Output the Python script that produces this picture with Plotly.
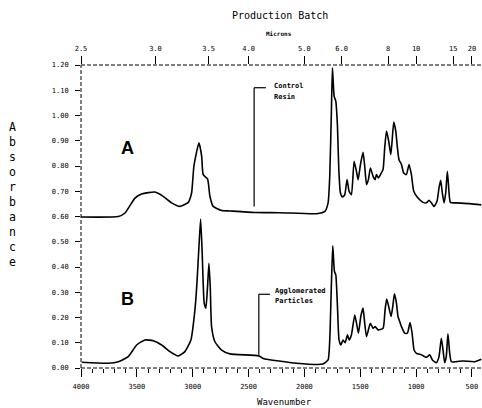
import plotly.graph_objects as go

# ---------------- data ----------------
wn_A = [4000, 3666, 3606, 3517, 3457, 3338, 3264, 3189, 3115, 3040, 3010, 2989, 2944, 2920,
        2906, 2867, 2846, 2817, 2741, 2667, 2444, 2220, 1892, 1817, 1788, 1773, 1758, 1749,
        1734, 1719, 1704, 1692, 1677, 1659, 1639, 1618, 1600, 1579, 1555, 1534, 1519, 1498,
        1475, 1460, 1444, 1427, 1409, 1385, 1367, 1355, 1337, 1319, 1296, 1281, 1265, 1245,
        1227, 1215, 1200, 1182, 1167, 1153, 1131, 1111, 1087, 1063, 1042, 1021, 983, 938,
        908, 884, 863, 840, 813, 795, 780, 765, 750, 735, 720, 706, 693, 639, 520, 416]
abs_A = [0.598, 0.600, 0.614, 0.673, 0.689, 0.697, 0.680, 0.654, 0.640, 0.656, 0.693, 0.800,
         0.892, 0.839, 0.766, 0.749, 0.680, 0.640, 0.624, 0.622, 0.616, 0.615, 0.611, 0.620,
         0.654, 0.759, 1.024, 1.189, 1.077, 1.057, 0.958, 0.786, 0.693, 0.677, 0.686, 0.746,
         0.700, 0.686, 0.819, 0.779, 0.746, 0.806, 0.854, 0.799, 0.726, 0.746, 0.792, 0.759,
         0.746, 0.766, 0.753, 0.766, 0.786, 0.872, 0.938, 0.898, 0.845, 0.898, 0.974, 0.938,
         0.872, 0.825, 0.806, 0.772, 0.766, 0.806, 0.766, 0.700, 0.673, 0.656, 0.654, 0.664,
         0.654, 0.640, 0.660, 0.713, 0.743, 0.693, 0.654, 0.693, 0.779, 0.700, 0.656, 0.654,
         0.651, 0.646]

wn_B = [3994, 3756, 3666, 3577, 3502, 3428, 3353, 3278, 3204, 3130, 3070, 3016, 2980, 2962,
        2944, 2929, 2915, 2897, 2882, 2867, 2855, 2843, 2831, 2801, 2741, 2667, 2408, 2369,
        2071, 1833, 1788, 1773, 1758, 1746, 1731, 1719, 1704, 1690, 1674, 1654, 1636, 1614,
        1600, 1579, 1549, 1528, 1516, 1495, 1475, 1460, 1444, 1427, 1409, 1385, 1367, 1341,
        1296, 1278, 1263, 1242, 1224, 1209, 1194, 1176, 1162, 1147, 1131, 1102, 1078, 1054,
        1036, 1018, 997, 952, 908, 878, 854, 818, 795, 774, 759, 744, 730, 715, 699, 684,
        580, 476, 416]
abs_B = [0.023, 0.019, 0.025, 0.045, 0.091, 0.111, 0.108, 0.091, 0.065, 0.048, 0.065, 0.111,
         0.230, 0.336, 0.481, 0.590, 0.455, 0.257, 0.237, 0.323, 0.415, 0.323, 0.164, 0.104,
         0.071, 0.056, 0.048, 0.038, 0.019, 0.016, 0.032, 0.111, 0.336, 0.484, 0.382, 0.369,
         0.243, 0.111, 0.091, 0.111, 0.100, 0.131, 0.111, 0.131, 0.210, 0.164, 0.138, 0.204,
         0.237, 0.177, 0.124, 0.151, 0.177, 0.157, 0.164, 0.151, 0.157, 0.230, 0.273, 0.237,
         0.204, 0.243, 0.294, 0.257, 0.204, 0.184, 0.164, 0.138, 0.138, 0.180, 0.138, 0.071,
         0.058, 0.052, 0.042, 0.052, 0.032, 0.021, 0.045, 0.118, 0.071, 0.021, 0.045, 0.135,
         0.058, 0.025, 0.028, 0.025, 0.035]

wn_ticks = [4000, 3500, 3000, 2500, 2000, 1500, 1000, 500]
micron_labels = ["2.5", "3.0", "3.5", "4.0", "5.0", "6.0", "8", "10", "15", "20"]
micron_vals = [2.5, 3.0, 3.5, 4.0, 5.0, 6.0, 8, 10, 15, 20]
abs_ticks = [0.0, 0.1, 0.2, 0.3, 0.4, 0.5, 0.6, 0.7, 0.8, 0.9, 1.0, 1.1, 1.2]

MONO = "DejaVu Sans Mono"

fig = go.Figure()
for wx, ay in ((wn_A, abs_A), (wn_B, abs_B)):
    fig.add_trace(go.Scatter(x=wx, y=ay, mode="lines",
                             line=dict(color="black", width=1.6, shape="spline", smoothing=0.5),
                             showlegend=False, hoverinfo="skip"))
# helper trace so the top (micron) axis is drawn
fig.add_trace(go.Scatter(x=wn_A[:1], y=abs_A[:1], xaxis="x2", mode="markers",
                         marker=dict(opacity=0), showlegend=False, hoverinfo="skip"))

XR = [4000, 410]
fig.update_layout(
    width=482, height=408,
    margin=dict(l=81, r=0, t=65, b=40, autoexpand=False),
    paper_bgcolor="white", plot_bgcolor="white",
    font=dict(family=MONO, color="black", size=7),
    xaxis=dict(range=XR, tickvals=wn_ticks, ticktext=[str(v) for v in wn_ticks],
               ticks="outside", ticklen=8, tickwidth=1, tickcolor="black",
               minor=dict(dtick=100, ticks="outside", ticklen=4, tickcolor="black"),
               showline=False, showgrid=False, zeroline=False, automargin=False,
               tickfont=dict(family=MONO, size=7), ticklabelstandoff=4),
    xaxis2=dict(range=XR, overlaying="x", side="top", anchor="y",
                tickvals=[10000 / m for m in micron_vals], ticktext=micron_labels,
                ticks="outside", ticklen=8, tickwidth=1, tickcolor="black",
                showline=False, showgrid=False, zeroline=False, automargin=False,
                tickfont=dict(family=MONO, size=7), ticklabelstandoff=2),
    yaxis=dict(range=[0, 1.2], tickvals=abs_ticks, tickformat=".2f",
               ticks="outside", ticklen=5, tickwidth=1, tickcolor="black",
               showline=False, showgrid=False, zeroline=False, automargin=False,
               tickfont=dict(family=MONO, size=7), ticklabelstandoff=5),
)

# dashed frame lines (left, top, bottom)
for (x0, y0, x1, y1) in ((0, 0, 0, 1), (0, 1, 1, 1), (0, 0, 1, 0)):
    fig.add_shape(type="line", xref="paper", yref="paper", x0=x0, y0=y0, x1=x1, y1=y1,
                  line=dict(color="black", width=1, dash="4px,2px"))

# bracket callouts
def bracket(xv, ytop, ybot, xend):
    fig.add_shape(type="line", xref="x", yref="y", x0=xv, x1=xv, y0=ybot, y1=ytop,
                  line=dict(color="black", width=1.2))
    fig.add_shape(type="line", xref="x", yref="y", x0=xv, x1=xend, y0=ytop, y1=ytop,
                  line=dict(color="black", width=1.2))

bracket(2450, 1.11, 0.64, 2345)
bracket(2408, 0.292, 0.052, 2309)

def note(text, x, y, size=7, bold=True):
    fig.add_annotation(text=f"<b>{text}</b>" if bold else text, x=x, y=y, xref="x", yref="y",
                       xanchor="left", yanchor="middle", showarrow=False,
                       font=dict(family=MONO, size=size, color="black"))

note("Control", 2294, 1.117)
note("Resin", 2294, 1.074)
note("Agglomerated", 2283, 0.305)
note("Particles", 2283, 0.264)

# big series letters
for lab, yv in (("A", 0.872), ("B", 0.273)):
    fig.add_annotation(text=f"<b>{lab}</b>", x=3584, y=yv, xref="x", yref="y",
                       xanchor="center", yanchor="middle",
                       showarrow=False, font=dict(family="Liberation Sans", size=18, color="black"))

def paper_text(text, px, py, size):
    fig.add_annotation(text=text, xref="paper", yref="paper",
                       x=(px - 81) / 401, y=(368 - py) / 303, xanchor="center", yanchor="middle",
                       showarrow=False, font=dict(family=MONO, size=size, color="black"))

# titles
paper_text("Production Batch", 280, 16, 10)
paper_text("<b>Microns</b>", 279, 33, 6)
paper_text("Wavenumber", 284, 402, 9)
paper_text("<br>".join("Absorbance"), 12, 194, 11.5)

fig.write_html("out.html", config={"displayModeBar": False},
               post_script="document.body.style.margin='0';document.body.style.overflow='hidden';")
